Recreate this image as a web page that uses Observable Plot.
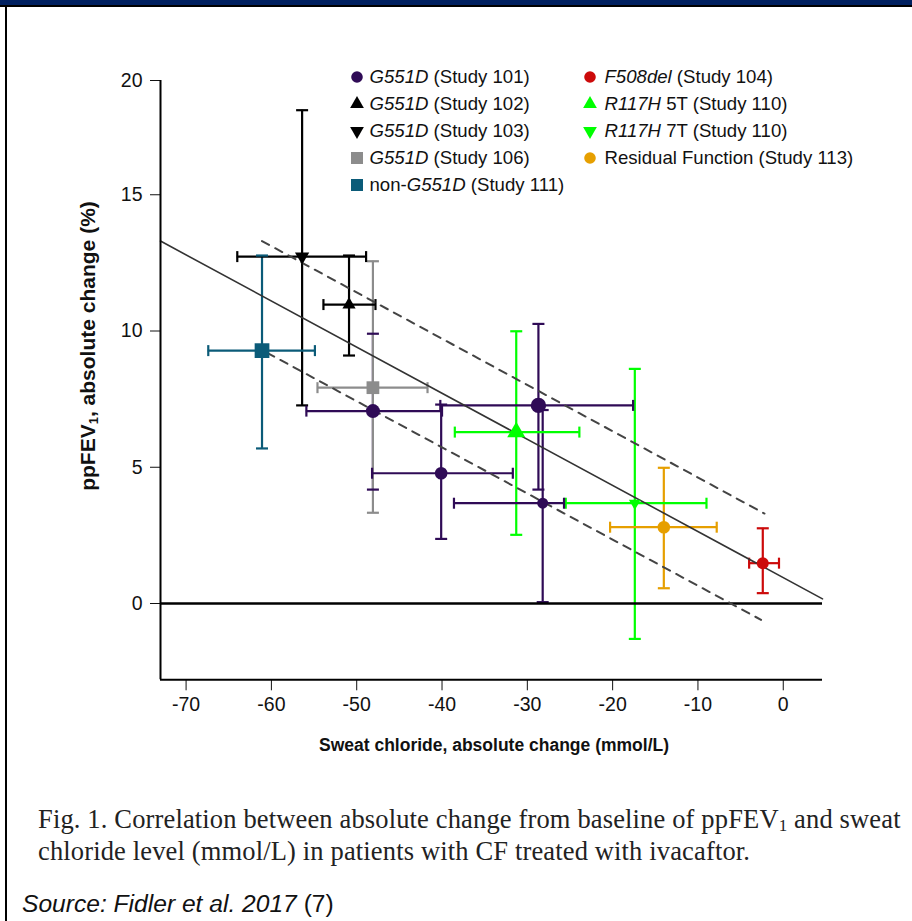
<!DOCTYPE html>
<html>
<head>
<meta charset="utf-8">
<script src="https://cdn.jsdelivr.net/npm/d3@7"></script>
<script src="https://cdn.jsdelivr.net/npm/@observablehq/plot@0.6"></script>
<style>
  html, body { margin: 0; padding: 0; background: #fff; }
  #page { position: relative; width: 912px; height: 921px; overflow: hidden; background: #fff;
          font-family: "Liberation Sans", Arial, Helvetica, sans-serif; color: #111; }
  #topbar { position: absolute; left: 0; top: 0; width: 912px; height: 5px; background: #002060; }
  #topline { position: absolute; left: 0; top: 5px; width: 912px; height: 2px; background: #000; }
  #leftline { position: absolute; left: 5px; top: 5px; width: 2px; height: 916px; background: #000; }
  #chart { position: absolute; left: 0; top: 0; }
  #chart svg [aria-label$="tick label"] { font-size: 19.5px; }
  #legend { position: absolute; left: 0; top: 0; width: 912px; height: 200px; font-size: 18.6px; }
  .lg-row { position: absolute; white-space: nowrap; line-height: 20px; }
  .lg-mark { position: absolute; }
  #xtitle { position: absolute; left: 494px; top: 735px; transform: translateX(-50%);
            font-weight: bold; font-size: 17.5px; white-space: nowrap; line-height: 20px; }
  #ytitle { position: absolute; left: 88px; top: 346px; transform: translate(-50%, -50%) rotate(-90deg);
            font-weight: bold; font-size: 21px; white-space: nowrap; line-height: 22px; }
  #ytitle sub { font-size: 13px; vertical-align: -3px; line-height: 0; }
  #caption { position: absolute; left: 38px; top: 803px; font-family: "Liberation Serif", "Times New Roman", serif;
             font-size: 26.5px; letter-spacing: 0.15px; line-height: 32px; color: #222; white-space: nowrap; }
  #caption sub { font-size: 17px; vertical-align: -3px; line-height: 0; }
  #source { position: absolute; left: 22px; top: 890px; font-size: 24.6px; line-height: 28px; white-space: nowrap; color: #111; }
</style>
</head>
<body>
<div id="page">
  <div id="topbar"></div>
  <div id="topline"></div>
  <div id="leftline"></div>
  <div id="chart"></div>
  <div id="legend"></div>
  <div id="xtitle"></div>
  <div id="ytitle"></div>
  <div id="caption"></div>
  <div id="source"></div>
</div>
<script>
// ---------------- DATA ----------------
const series = [
  "G551D (Study 101)", "G551D (Study 102)", "G551D (Study 103)", "G551D (Study 106)",
  "non-G551D (Study 111)", "F508del (Study 104)", "R117H 5T (Study 110)",
  "R117H 7T (Study 110)", "Residual Function (Study 113)"
];
// legend label pieces: [plain prefix, italic gene, plain suffix]
const legendPrefix = ["", "", "", "", "non-", "", "", "", "Residual Function"];
const legendItalic = ["G551D", "G551D", "G551D", "G551D", "G551D", "F508del", "R117H", "R117H", ""];
const legendSuffix = [" (Study 101)", " (Study 102)", " (Study 103)", " (Study 106)", " (Study 111)",
                      " (Study 104)", " 5T (Study 110)", " 7T (Study 110)", " (Study 113)"];

const pointSeries = [
  "G551D (Study 101)", "G551D (Study 101)", "G551D (Study 101)", "G551D (Study 101)",
  "G551D (Study 102)", "G551D (Study 103)", "G551D (Study 106)", "non-G551D (Study 111)",
  "F508del (Study 104)", "R117H 5T (Study 110)", "R117H 7T (Study 110)", "Residual Function (Study 113)"
];
const sweatMean = [-48.1, -40.1, -28.7, -28.2, -50.9, -56.4, -48.1, -61.1, -2.4, -31.3, -17.4, -14.0];
const sweatLow  = [-55.9, -48.2, -40.2, -38.6, -53.9, -64.0, -54.6, -67.4, -4.0, -38.5, -25.5, -20.3];
const sweatHigh = [-40.0, -31.7, -17.6, -25.7, -47.8, -48.9, -41.7, -54.9, -0.5, -23.9, -9.0, -7.8];
const fevMean   = [7.06, 4.78, 7.27, 3.68, 10.97, 12.73, 7.92, 9.28, 1.48, 6.29, 3.68, 2.80];
const fevLow    = [4.18, 2.37, 4.18, 0.05, 9.10, 7.27, 3.33, 5.69, 0.38, 2.52, -1.30, 0.56];
const fevHigh   = [9.90, 7.30, 10.26, 7.10, 12.77, 18.7, 12.56, 12.77, 2.76, 9.99, 8.61, 4.98];

// regression line and its dashed bounds (end points)
const fitX = [-73.0, 4.6];
const fitY = [13.3, 0.17];
const upperX = [-61.1, -2.2];
const upperY = [13.3, 3.3];
const lowerX = [-60.5, -2.6];
const lowerY = [9.2, -0.6];

// axes
const xTicks = [-70, -60, -50, -40, -30, -20, -10, 0];
const xTickLabels = ["-70", "-60", "-50", "-40", "-30", "-20", "-10", "0"];
const yTicks = [0, 5, 10, 15, 20];
const yTickLabels = ["0", "5", "10", "15", "20"];
const xDomain = [-73.0, 4.6];
const yDomain = [-2.8, 20];

// ---------------- STYLE ----------------
const seriesColors = ["#2f0b56", "#000000", "#000000", "#8c8c8c", "#0b5b78", "#cc0a0a", "#00ff00", "#00ff00", "#e69f00"];
const seriesShape = ["circle", "up", "down", "square", "square", "circle", "up", "down", "circle"];
const markerR = [7, 6.3, 7.7, 5.5, 4.9, 5.3, 7.2, 8.3, 6, 6.7, 4.4, 6.3];

// the reference y axis is compressed above 15 (15 -> 20 spans 114 px instead of 136 px)
const yBreak = 15, yCompress = 114.25 / 136.25;
const warp = v => v <= yBreak ? v : yBreak + (v - yBreak) * yCompress;

const sqrt3 = Math.sqrt(3);
const triDown = {
  draw(ctx, size) {
    const y = -Math.sqrt(size / (sqrt3 * 3));
    ctx.moveTo(0, -y * 2);
    ctx.lineTo(-sqrt3 * y, y);
    ctx.lineTo(sqrt3 * y, y);
    ctx.closePath();
  }
};
const hCap = { draw(ctx, size) { const r = Math.sqrt(size / Math.PI); ctx.moveTo(-r, 0); ctx.lineTo(r, 0); } };
const vCap = { draw(ctx, size) { const r = Math.sqrt(size / Math.PI); ctx.moveTo(0, -r); ctx.lineTo(0, r); } };
const symbolFor = { circle: "circle", up: "triangle", down: triDown, square: "square" };

// ---------------- TABLE ----------------
const data = pointSeries.map((s, i) => ({
  series: s, shape: seriesShape[series.indexOf(s)], r: markerR[i],
  x: sweatMean[i], xLo: sweatLow[i], xHi: sweatHigh[i],
  y: fevMean[i], yLo: fevLow[i], yHi: fevHigh[i]
}));
const fitLine = fitX.map((x, i) => ({x, y: fitY[i]}));
const upperLine = upperX.map((x, i) => ({x, y: upperY[i]}));
const lowerLine = lowerX.map((x, i) => ({x, y: lowerY[i]}));

const Y = key => d => warp(d[key]);
const ebW = 2.2;
const marks = [
  // error bars
  Plot.ruleX(data, {x: "x", y1: Y("yLo"), y2: Y("yHi"), stroke: "series", strokeWidth: ebW}),
  Plot.ruleY(data, {y: Y("y"), x1: "xLo", x2: "xHi", stroke: "series", strokeWidth: ebW}),
  Plot.dot(data, {x: "x", y: Y("yLo"), symbol: hCap, r: 6, stroke: "series", strokeWidth: ebW}),
  Plot.dot(data, {x: "x", y: Y("yHi"), symbol: hCap, r: 6, stroke: "series", strokeWidth: ebW}),
  Plot.dot(data, {x: "xLo", y: Y("y"), symbol: vCap, r: 5.5, stroke: "series", strokeWidth: ebW}),
  Plot.dot(data, {x: "xHi", y: Y("y"), symbol: vCap, r: 5.5, stroke: "series", strokeWidth: ebW}),
  // zero line
  Plot.ruleY([0], {stroke: "#000", strokeWidth: 2.5}),
  // fit + bounds
  Plot.line(fitLine, {x: "x", y: Y("y"), stroke: "#333", strokeWidth: 1.6}),
  Plot.line(upperLine, {x: "x", y: Y("y"), stroke: "#444", strokeWidth: 2, strokeDasharray: "8,7"}),
  Plot.line(lowerLine, {x: "x", y: Y("y"), stroke: "#444", strokeWidth: 2, strokeDasharray: "8,7"}),
];
for (const shape of ["circle", "up", "down", "square"]) {
  marks.push(Plot.dot(data.filter(d => d.shape === shape),
    {x: "x", y: Y("y"), r: "r", symbol: symbolFor[shape], fill: "series", stroke: "none"}));
}
// axis lines (L-shaped frame)
marks.push(Plot.ruleX([xDomain[0]], {y1: warp(yDomain[0]), y2: warp(yDomain[1]), stroke: "#000", strokeWidth: 2}));
marks.push(Plot.ruleY([warp(yDomain[0])], {x1: xDomain[0], x2: xDomain[1], stroke: "#000", strokeWidth: 2}));

const H = 770, yTopPx = 80, yBottomPx = 603 + 2.8 * 27.25;
const chart = Plot.plot({
  width: 912,
  height: H,
  marginLeft: 160,
  marginRight: 90,
  marginTop: yTopPx,
  marginBottom: H - yBottomPx,
  x: {domain: xDomain, ticks: xTicks, tickFormat: d => xTickLabels[xTicks.indexOf(d)], tickSize: 11, tickPadding: 6, label: null},
  y: {domain: yDomain.map(warp), ticks: yTicks.map(warp),
      tickFormat: d => yTickLabels[yTicks.map(warp).indexOf(d)], tickSize: 10, tickPadding: 8, label: null},
  color: {domain: series, range: seriesColors},
  r: {type: "identity"},
  style: {fontFamily: "'Liberation Sans', Arial, sans-serif", fontSize: "19.5px", color: "#111", background: "transparent", overflow: "visible"},
  marks
});
document.getElementById("chart").appendChild(chart);

// ---------------- LEGEND (HTML overlay) ----------------
const legend = d3.select("#legend");
const legendCol = [0, 0, 0, 0, 0, 1, 1, 1, 1];
const legendRowIdx = [0, 1, 2, 3, 4, 0, 1, 2, 3];
const colMarkX = [356.5, 590];
const colTextX = [369.5, 604.5];
const row0 = 77, rowStep = 27;
series.forEach((s, i) => {
  const cy = row0 + legendRowIdx[i] * rowStep;
  const c = legendCol[i];
  const svg = legend.append("svg").attr("class", "lg-mark")
    .attr("width", 20).attr("height", 20)
    .style("left", (colMarkX[c] - 10) + "px").style("top", (cy - 10) + "px");
  const shape = seriesShape[i];
  let sym, size;
  if (shape === "circle") { sym = d3.symbolCircle; size = Math.PI * 5.8 * 5.8; }
  else if (shape === "up") { sym = d3.symbolTriangle; size = Math.PI * 5.1 * 5.1; }
  else if (shape === "down") { sym = triDown; size = Math.PI * 5.1 * 5.1; }
  else { sym = d3.symbolSquare; size = 12 * 12; }
  svg.append("path").attr("transform", "translate(10,10)")
    .attr("d", d3.symbol(sym, size)()).attr("fill", seriesColors[i]);
  const row = legend.append("div").attr("class", "lg-row")
    .style("left", colTextX[c] + "px").style("top", (cy - 10) + "px");
  if (legendPrefix[i]) row.append("span").text(legendPrefix[i]);
  if (legendItalic[i]) row.append("i").text(legendItalic[i]);
  row.append("span").text(legendSuffix[i]);
});

// ---------------- TITLES & CAPTION ----------------
document.getElementById("xtitle").textContent = "Sweat chloride, absolute change (mmol/L)";
document.getElementById("ytitle").innerHTML = "ppFEV<sub>1</sub>, absolute change (%)";
document.getElementById("caption").innerHTML =
  "Fig. 1. Correlation between absolute change from baseline of ppFEV<sub>1</sub> and sweat<br>" +
  "chloride level (mmol/L) in patients with CF treated with ivacaftor.";
document.getElementById("source").innerHTML = "<i>Source: Fidler et al. 2017</i> (7)";
</script>
</body>
</html>
